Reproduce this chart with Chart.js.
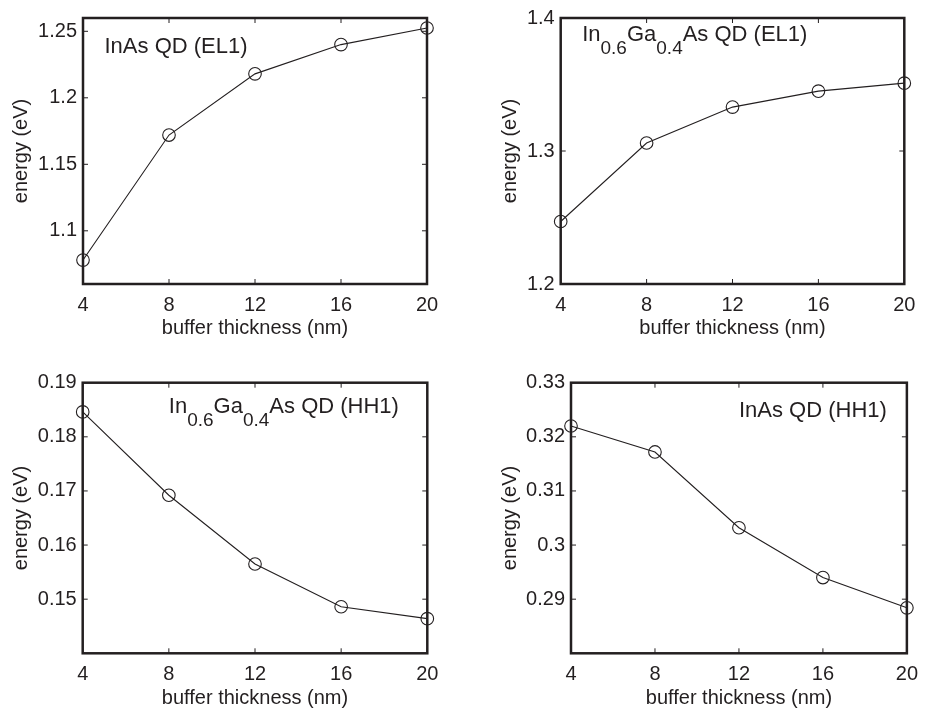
<!DOCTYPE html>
<html>
<head>
<meta charset="utf-8">
<script src="https://cdn.jsdelivr.net/npm/chart.js@4.4.1/dist/chart.umd.min.js"></script>
<style>
  html, body { margin: 0; padding: 0; background: #fff; }
  canvas { position: absolute; }
</style>
</head>
<body>
<canvas id="inasEL1" width="463" height="345" style="left:0;top:0"></canvas>
<canvas id="ingaasEL1" width="464" height="345" style="left:463px;top:0"></canvas>
<canvas id="ingaasHH1" width="463" height="355" style="left:0;top:356px"></canvas>
<canvas id="inasHH1" width="464" height="355" style="left:463px;top:356px"></canvas>
<script>
// buffer thickness (nm) and the confined-level energies (eV)
const thickness = [4, 8, 12, 16, 20];
const inasEL1 = [1.078, 1.172, 1.218, 1.240, 1.2525];
const ingaasEL1 = [1.247, 1.306, 1.333, 1.345, 1.351];
const ingaasHH1 = [0.1846, 0.1692, 0.1565, 0.1486, 0.1464];
const inasHH1 = [0.3220, 0.3172, 0.3032, 0.2940, 0.2884];

// axis limits and tick values
const xRange = [4, 20];
const xTicks = [4, 8, 12, 16, 20];
const yRangeInasEL1 = [1.06, 1.26];
const yTicksInasEL1 = [1.1, 1.15, 1.2, 1.25];
const yRangeIngaasEL1 = [1.2, 1.4];
const yTicksIngaasEL1 = [1.2, 1.3, 1.4];
const yRangeIngaasHH1 = [0.14, 0.19];
const yTicksIngaasHH1 = [0.15, 0.16, 0.17, 0.18, 0.19];
const yRangeInasHH1 = [0.28, 0.33];
const yTicksInasHH1 = [0.29, 0.3, 0.31, 0.32, 0.33];

// in-plot labels: [text, subscript?] runs
const labelInasEL1 = [['InAs QD (EL1)', false]];
const labelIngaasEL1 = [['In', false], ['0.6', true], ['Ga', false], ['0.4', true], ['As QD (EL1)', false]];
const labelIngaasHH1 = [['In', false], ['0.6', true], ['Ga', false], ['0.4', true], ['As QD (HH1)', false]];
const labelInasHH1 = [['InAs QD (HH1)', false]];

const ink = '#231f20';
const family = '"Liberation Sans", Arial, Helvetica, sans-serif';

// box with inward ticks on all four sides
const framePlugin = {
  id: 'frame',
  beforeDatasetsDraw(chart) {
    const { ctx, chartArea: a, scales: { x, y } } = chart;
    const len = 5;
    ctx.save();
    ctx.strokeStyle = ink;
    ctx.lineWidth = 1;
    ctx.beginPath();
    x.ticks.forEach(t => {
      const px = x.getPixelForValue(t.value);
      ctx.moveTo(px, a.bottom); ctx.lineTo(px, a.bottom - len);
      ctx.moveTo(px, a.top); ctx.lineTo(px, a.top + len);
    });
    y.ticks.forEach(t => {
      const py = y.getPixelForValue(t.value);
      ctx.moveTo(a.left, py); ctx.lineTo(a.left + len, py);
      ctx.moveTo(a.right, py); ctx.lineTo(a.right - len, py);
    });
    ctx.stroke();
    ctx.lineWidth = 2.5;
    ctx.strokeRect(a.left, a.top, a.right - a.left, a.bottom - a.top);
    ctx.restore();
  }
};

// text label placed in data coordinates, with subscript runs
const labelPlugin = {
  id: 'qdLabel',
  afterDatasetsDraw(chart, args, opts) {
    const { ctx, scales: { x, y } } = chart;
    let px = x.getPixelForValue(opts.x);
    const py = y.getPixelForValue(opts.y);
    ctx.save();
    ctx.fillStyle = ink;
    ctx.textBaseline = 'alphabetic';
    ctx.textAlign = 'left';
    opts.runs.forEach(([text, sub]) => {
      ctx.font = (sub ? 19 : 22) + 'px ' + family;
      ctx.fillText(text, px, sub ? py + 13 : py);
      px += ctx.measureText(text).width;
    });
    ctx.restore();
  }
};

function makeChart(id, values, yRange, yTicks, label, box) {
  const ctx = document.getElementById(id).getContext('2d');
  return new Chart(ctx, {
    type: 'line',
    data: {
      datasets: [{
        data: thickness.map((t, i) => ({ x: t, y: values[i] })),
        borderColor: ink,
        borderWidth: 1.1,
        backgroundColor: 'rgba(0,0,0,0)',
        pointStyle: 'circle',
        pointRadius: 6.3,
        pointBorderWidth: 1.1,
        pointBorderColor: ink,
        pointBackgroundColor: 'rgba(0,0,0,0)',
        tension: 0,
        clip: false
      }]
    },
    options: {
      responsive: false,
      animation: false,
      events: [],
      layout: {
        padding: { left: box.padL, right: box.padR, top: box.padT, bottom: box.padB }
      },
      plugins: {
        legend: { display: false },
        tooltip: { enabled: false },
        qdLabel: label
      },
      scales: {
        x: {
          type: 'linear',
          min: xRange[0],
          max: xRange[1],
          afterBuildTicks: s => { s.ticks = xTicks.map(v => ({ value: v })); },
          afterFit: s => { s.height = box.xHeight; },
          grid: { display: false, drawTicks: false },
          border: { display: false },
          ticks: {
            color: ink,
            padding: 9,
            font: { family, size: 20 },
            callback: v => String(v)
          },
          title: {
            display: true,
            text: 'buffer thickness (nm)',
            color: ink,
            padding: 0,
            font: { family, size: 20 }
          }
        },
        y: {
          type: 'linear',
          min: yRange[0],
          max: yRange[1],
          afterBuildTicks: s => { s.ticks = yTicks.map(v => ({ value: v })); },
          afterFit: s => { s.width = box.yWidth; },
          grid: { display: false, drawTicks: false },
          border: { display: false },
          ticks: {
            color: ink,
            padding: 6,
            font: { family, size: 20 },
            callback: v => String(v)
          },
          title: {
            display: true,
            text: 'energy (eV)',
            color: ink,
            padding: 0,
            font: { family, size: 20 }
          }
        }
      }
    },
    plugins: [framePlugin, labelPlugin]
  });
}

makeChart('inasEL1', inasEL1, yRangeInasEL1, yTicksInasEL1,
  { x: 5, y: 1.234, runs: labelInasEL1 },
  { padL: 9.7, yWidth: 73.3, padR: 36, padT: 14, xHeight: 56, padB: 5 });

makeChart('ingaasEL1', ingaasEL1, yRangeIngaasEL1, yTicksIngaasEL1,
  { x: 5, y: 1.3827, runs: labelIngaasEL1 },
  { padL: 35, yWidth: 62.7, padR: 22.7, padT: 14, xHeight: 56, padB: 5 });

makeChart('ingaasHH1', ingaasHH1, yRangeIngaasHH1, yTicksIngaasHH1,
  { x: 8, y: 0.1844, runs: labelIngaasHH1 },
  { padL: 9.7, yWidth: 73, padR: 35.7, padT: 26.7, xHeight: 57, padB: 0.7 });

makeChart('inasHH1', inasHH1, yRangeInasHH1, yTicksInasHH1,
  { x: 12, y: 0.3236, runs: labelInasHH1 },
  { padL: 35, yWidth: 73, padR: 11.7, padT: 26.7, xHeight: 57, padB: 0.7 });
</script>
</body>
</html>
